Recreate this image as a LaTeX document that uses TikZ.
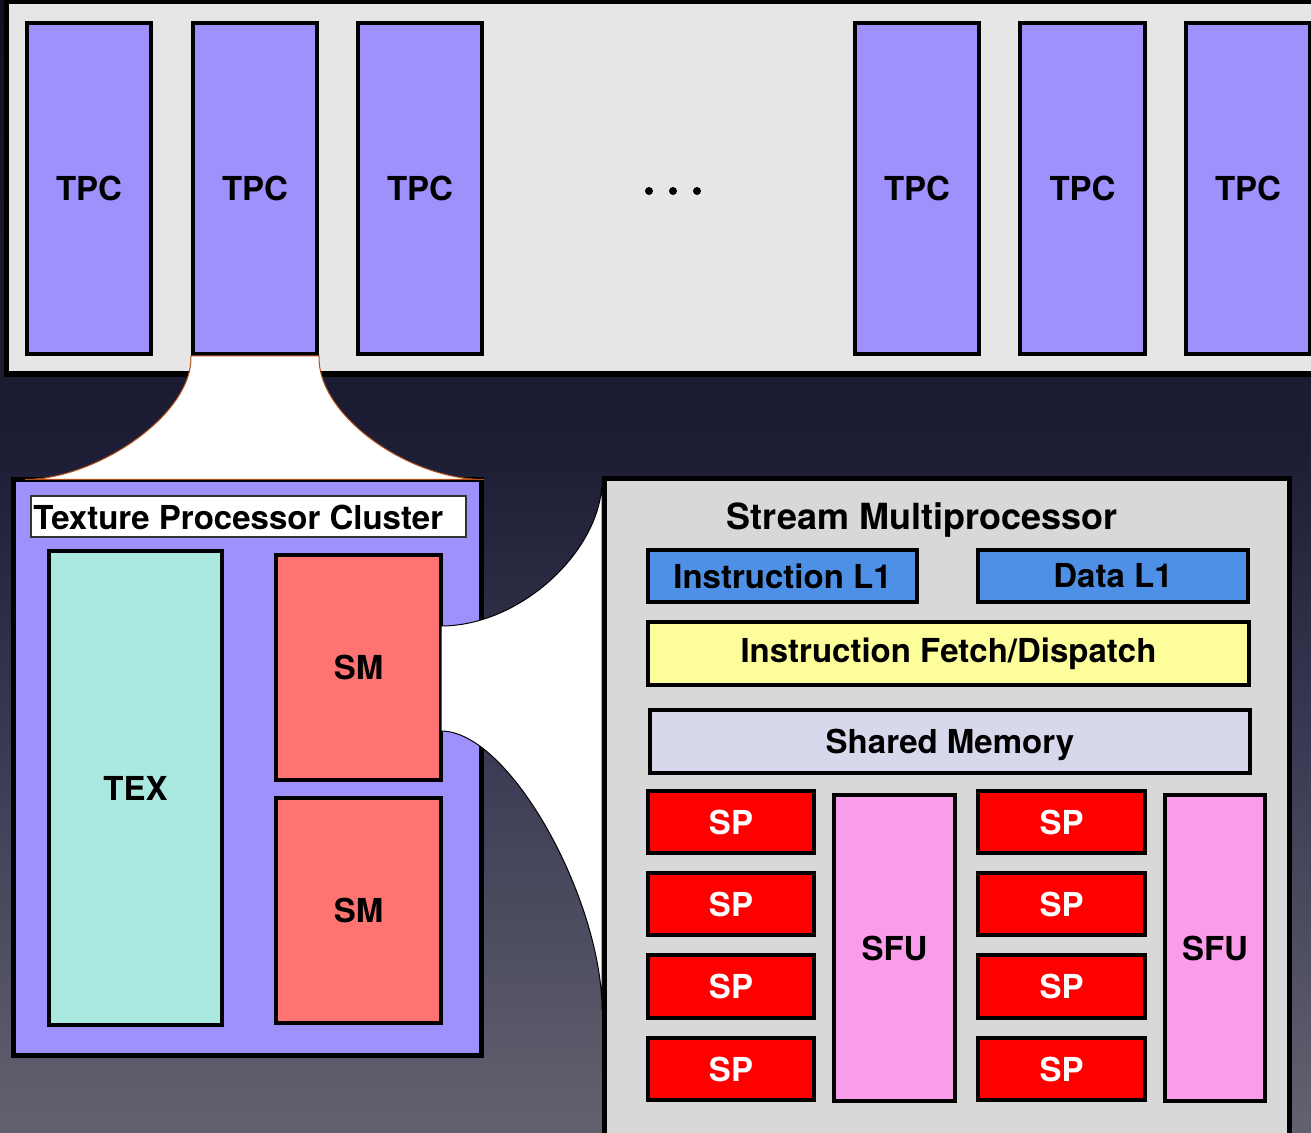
\documentclass[tikz,border=0pt]{standalone}
\usepackage{fontspec}
\setmainfont{TeX Gyre Heros}
\usetikzlibrary{fit}

\definecolor{bgtop}{HTML}{111124}
\definecolor{bgupper}{HTML}{1D1D35}
\definecolor{bgmid}{HTML}{3A3A54}
\definecolor{bgbot}{HTML}{62626F}
\definecolor{panelgray}{HTML}{E6E6E6}
\definecolor{tpcpurple}{HTML}{9E91FB}
\definecolor{smgray}{HTML}{D8D8D8}
\definecolor{texteal}{HTML}{AAE9E0}
\definecolor{smsalmon}{HTML}{FF7373}
\definecolor{cacheblue}{HTML}{4E90E6}
\definecolor{fetchyellow}{HTML}{FDFD9C}
\definecolor{sharedlav}{HTML}{D7D8EC}
\definecolor{spred}{HTML}{FF0000}
\definecolor{sfupink}{HTML}{F99CE9}
\definecolor{funnelbrown}{HTML}{B5501A}

% the shaded path covers the band from 25bp to 75bp of the shading
\pgfdeclareverticalshading{backdrop}{100bp}{%
  color(0bp)=(bgbot); color(25bp)=(bgbot); color(42bp)=(bgmid);
  color(55bp)=(bgupper); color(75bp)=(bgtop); color(100bp)=(bgtop)}

\begin{document}
\begin{tikzpicture}[x=0.5pt,y=-0.5pt,
  boxfont/.style={font=\fontsize{16.5}{19}\selectfont\bfseries, inner sep=0pt},
  unit/.style={draw=black, line width=2pt, inner sep=0pt},
  tpcbox/.style={unit, fill=tpcpurple},
  spbox/.style={unit, fill=spred},
  sfubox/.style={unit, fill=sfupink},
  splabel/.style={boxfont, text=white},
  dotmark/.style={circle, fill=black, inner sep=0pt, minimum size=4pt},
  funnelshape/.style={fill=white, line width=0.5pt},
]
\useasboundingbox (0,0) rectangle (1311,1133);
\begin{scope}
\clip (0,0) rectangle (1311,1133);

% backdrop
\shade[shading=backdrop] (0,0) rectangle (1311,1133);

% GPU strip with its clusters
\fill[black] (4,0) rectangle (1330,377);
\fill[panelgray] (9,4.5) rectangle (1330,371);
\node[tpcbox, fit={(27,23) (151,354)}, label={[boxfont]center:TPC}] (tpc1) {};
\node[tpcbox, fit={(193,23) (317,354)}, label={[boxfont]center:TPC}] (tpc2) {};
\node[tpcbox, fit={(358,23) (482,354)}, label={[boxfont]center:TPC}] (tpc3) {};
\node[dotmark] (dot1) at (649,191) {};
\node[dotmark] (dot2) at (673,191) {};
\node[dotmark] (dot3) at (697,191) {};
\node[tpcbox, fit={(855,23) (979,354)}, label={[boxfont]center:TPC}] (tpc4) {};
\node[tpcbox, fit={(1020,23) (1145,354)}, label={[boxfont]center:TPC}] (tpc5) {};
\node[tpcbox, fit={(1186,23) (1310,354)}, label={[boxfont]center:TPC}] (tpc6) {};

% texture processor cluster
\node[draw=black, line width=2.5pt, fill=tpcpurple, inner sep=0pt,
      fit={(13.5,479.5) (481.5,1055.5)}] (cluster) {};
\node[draw=black!80, line width=0.6pt, fill=white, inner sep=0pt,
      fit={(31,496) (466,537)}] (ctitlebox) {};
\node[boxfont, anchor=west] (ctitle) at (33,517) {Texture Processor Cluster};
\node[unit, fill=texteal, fit={(49,551) (222,1025)}, label={[boxfont]center:TEX}] (tex) {};
\node[unit, fill=smsalmon, fit={(276,555) (441,780)}, label={[boxfont]center:SM}] (sm1) {};
\node[unit, fill=smsalmon, fit={(276,798) (441,1023)}, label={[boxfont]center:SM}] (sm2) {};

% stream multiprocessor
\node[draw=black, line width=2.5pt, fill=smgray, inner sep=0pt,
      fit={(604.5,478.5) (1289.5,1150)}] (smpanel) {};
\node[font=\fontsize{18}{21}\selectfont\bfseries, inner sep=0pt] (smtitle) at (922,520) {Stream Multiprocessor};
\node[unit, fill=cacheblue, fit={(648,550) (917,602)}, label={[boxfont]center:Instruction L1}] (il1) {};
\node[unit, fill=cacheblue, fit={(978,550) (1248,602)}, label={[boxfont]center:Data L1}] (dl1) {};
\node[unit, fill=fetchyellow, fit={(648,622) (1249,685)}, label={[boxfont]center:Instruction Fetch/Dispatch}] (fetch) {};
\node[unit, fill=sharedlav, fit={(650,710) (1250,773)}, label={[boxfont, text depth=0pt]center:Shared Memory}] (shmem) {};

\node[spbox, fit={(648,791) (814,853)}, label={[splabel]center:SP}] (spa1) {};
\node[spbox, fit={(648,873) (814,935)}, label={[splabel]center:SP}] (spa2) {};
\node[spbox, fit={(648,955) (814,1018)}, label={[splabel]center:SP}] (spa3) {};
\node[spbox, fit={(648,1038) (814,1100)}, label={[splabel]center:SP}] (spa4) {};
\node[sfubox, fit={(834,795) (955,1101)}, label={[boxfont]center:SFU}] (sfu1) {};
\node[spbox, fit={(978,791) (1145,853)}, label={[splabel]center:SP}] (spb1) {};
\node[spbox, fit={(978,873) (1145,935)}, label={[splabel]center:SP}] (spb2) {};
\node[spbox, fit={(978,955) (1145,1018)}, label={[splabel]center:SP}] (spb3) {};
\node[spbox, fit={(978,1038) (1145,1100)}, label={[splabel]center:SP}] (spb4) {};
\node[sfubox, fit={(1165,795) (1265,1101)}, label={[boxfont]center:SFU}] (sfu2) {};

% zoom funnel: one TPC opened up into the cluster
\coordinate (fl) at (25,479.5);
\coordinate (fr) at (484,479.5);
\draw[funnelshape, draw=funnelbrown]
  (tpc2.south west) -- (tpc2.south east)
  .. controls (317,415) and (408,479.5) .. (fr)
  -- (fl)
  .. controls (96,479.5) and (193,415) .. (tpc2.south west) -- cycle;

% zoom funnel: one SM opened up into the multiprocessor
\coordinate (gu) at (441,626);
\coordinate (gl) at (441,731);
\coordinate (hu) at (602,480);
\coordinate (hl) at (602,1010);
\draw[funnelshape, draw=black]
  (gu) .. controls (521,626) and (602,550) .. (hu)
  -- (hl)
  .. controls (602,900) and (510,731) .. (gl) -- cycle;
\end{scope}
\end{tikzpicture}
\end{document}
